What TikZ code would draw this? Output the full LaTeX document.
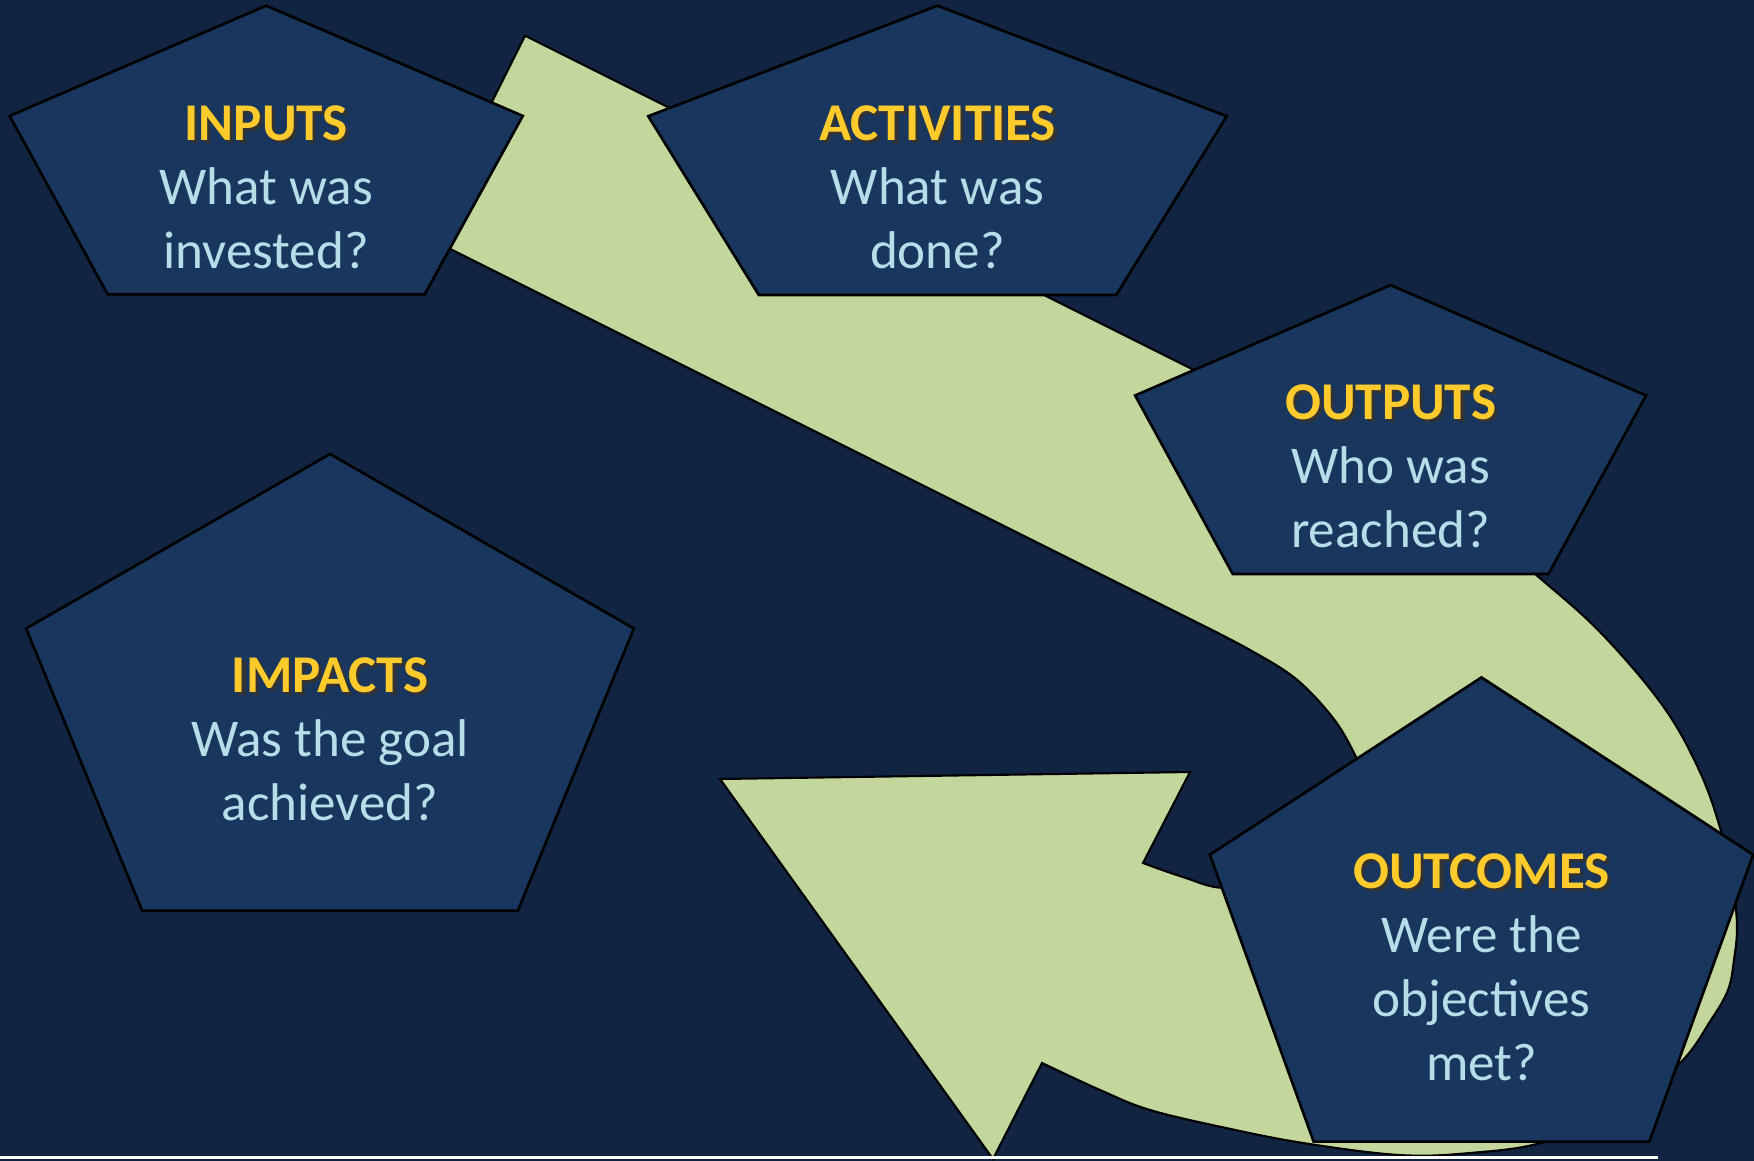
\documentclass[tikz,border=0pt]{standalone}
\usepackage{fontspec}
\setmainfont{Carlito}
\definecolor{navybg}{HTML}{112441}
\definecolor{pentfill}{HTML}{18365E}
\definecolor{arrowgreen}{HTML}{C3D69B}
\definecolor{ttlyellow}{HTML}{FFCA2B}
\definecolor{bodyblue}{HTML}{B7DEE8}
\newcommand\ttlshadow[1]{\makebox[0pt][l]{\kern0.9pt\raisebox{-0.9pt}{\textcolor{black!80}{#1}}}\textcolor{ttlyellow}{#1}}
\begin{document}
\begin{tikzpicture}[x=0.01cm,y=-0.01cm,
	pent/.style={draw=black,line width=0.75pt,fill=pentfill},
	arrowbody/.style={draw=black,line width=0.6pt,fill=arrowgreen},
	lbl/.style={align=center,inner sep=0pt,anchor=north,text=bodyblue,font=\fontsize{15.1}{18.2}\selectfont}]
		\useasboundingbox[fill=navybg] (0,0) rectangle (1754,1161);
		% curved arrow
		\draw[arrowbody] (525,35.7) -- plot[smooth,tension=0.6] coordinates {(1300,423) (1380,463) (1460,510) (1534,573) (1600,632) (1663,706) (1700,772) (1721,831) (1732,880) (1737,925) (1734,960) (1728,990) (1711,1020) (1680,1063) (1620,1108) (1544,1142) (1470,1153) (1399,1155) (1303,1143) (1226,1128) (1150,1110) (1100,1090) (1042,1063)}
			-- (993,1159) -- (720,779) -- (1190,772) -- (1143,863)
			-- plot[smooth,tension=0.6] coordinates {(1143,863) (1183,877) (1225,888) (1290,880) (1340,850) (1365,805) (1362,775) (1354,753) (1333,718) (1296,679) (1250,650) (1200,624)}
			-- (424.7,236.2) -- cycle;
		% pentagons
		\foreach \cx/\cy/\rx/\ry in {266.2/165.2/269.8/159.5, 937.5/165.6/304.1/159.9, 1390.6/444.8/268.6/159.7, 330/706.5/319.5/252.5, 1481.5/934/285.6/256.6}
		{
			\draw[pent] (\cx,{\cy-\ry}) -- ({\cx+0.9511*\rx},{\cy-0.309*\ry}) -- ({\cx+0.5878*\rx},{\cy+0.809*\ry})
				-- ({\cx-0.5878*\rx},{\cy+0.809*\ry}) -- ({\cx-0.9511*\rx},{\cy-0.309*\ry}) -- cycle;
		}
		\node[lbl] (inputs) at (266.2,105.2) {{\bfseries\ttlshadow{INPUTS}}\\What was\\invested?};
		\node[lbl] (activities) at (937.5,105) {{\bfseries\ttlshadow{ACTIVITIES}}\\What was\\done?};
		\node[lbl] (outputs) at (1390.6,383.6) {{\bfseries\ttlshadow{OUTPUTS}}\\Who was\\reached?};
		\node[lbl] (impacts) at (330,657.2) {{\bfseries\ttlshadow{IMPACTS}}\\Was the goal\\achieved?};
		\node[lbl] (outcomes) at (1481.5,853.2) {{\bfseries\ttlshadow{OUTCOMES}}\\Were the\\objectives\\met?};
		% bottom rule
		\fill[white] (0,1156) rectangle (1658,1159);
\end{tikzpicture}
\end{document}
